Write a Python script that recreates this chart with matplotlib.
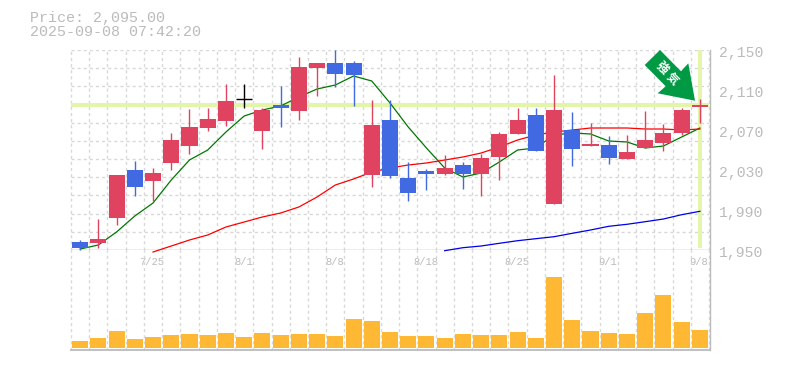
import matplotlib
matplotlib.use("Agg")
import matplotlib.pyplot as plt
from matplotlib.patches import Polygon, Rectangle

W, H = 785, 370
opens = [1958,1957,1982,2030,2019,2037,2054,2072,2079,2101,2069,2095,2089,2132,2137,2137,2025,2080,2022,2029,2026,2035,2026,2043,2066,2085,1996,2070,2054,2055,2041,2052,2057,2067,2093]
closes = [1952,1961,2025,2013,2027,2060,2073,2081,2099,2101,2090,2092,2133,2137,2126,2125,2075,2024,2007,2026,2032,2026,2042,2066,2080,2049,2090,2051,2056,2042,2048,2060,2067,2090,2095]
highs = [1960,1981,2025,2039,2032,2067,2091,2092,2116,2116,2092,2114,2143,2137,2150,2139,2100,2100,2038,2031,2045,2038,2046,2068,2092,2092,2125,2088,2077,2064,2065,2089,2076,2092,2101]
lows = [1950,1952,1975,2004,1999,2030,2046,2069,2074,2092,2051,2073,2080,2104,2113,2094,2013,2022,1999,2010,2025,2011,2004,2020,2066,2049,1996,2034,2054,2036,2041,2052,2049,2065,2077]
ma_short = [1951,1955,1968,1984,1997,2020,2040,2050,2068,2084,2090,2094,2103,2111,2115,2124,2119,2097,2073,2052,2032,2023,2027,2038,2050,2052,2065,2067,2066,2059,2058,2052,2054,2063,2072]
ma_mid = [None,None,None,None,1948,1954,1960,1965,1973,1978,1983,1987,1993,2003,2015,2021,2028,2032,2035,2037,2040,2043,2047,2053,2060,2065,2068,2070,2072,2072,2072,2071,2071,2070,2071]
ma_long = [None]*20 + [1949.3,1952.3,1954,1956.7,1959.3,1961.3,1963.3,1966.7,1970,1973.7,1975.7,1978.3,1981,1985.3,1988.7]
volumes = [7,10,17,9,11,13,14,13,15,11,15,13,14,14,12,29,27,16,12,12,10,14,13,13,16,10,71,28,17,15,14,35,53,26,18]
date_labels = {4:"7/25",9:"8/1",14:"8/8",19:"8/18",24:"8/25",29:"9/1",34:"9/8"}
price_ticks = [2150,2110,2070,2030,1990,1950]
current_price = 2095
header = ["Price: 2,095.00","2025-09-08 07:42:20"]
arrow_chars = ["強","気"]

UP, DOWN, DOJI = "#e0435f", "#4169e1", "#000000"
GRID, AXIS, TXT = "#d8d8d8", "#bbbbbb", "#bbbbbb"
MONO = "Liberation Mono"
n = len(opens)

fig = plt.figure(figsize=(W/100, H/100), dpi=100)
L, R = 71, 709
def rect(top, bottom):
    return [L/W, 1-bottom/H, (R-L)/W, (bottom-top)/H]
ax = fig.add_axes(rect(50, 250))
av = fig.add_axes(rect(250, 350))
DASH = (0,(2.2,2.2))
for a in (ax, av):
    a.set_xlim(0, n)
    for s in a.spines.values():
        s.set_visible(False)
    a.set_xticks([]); a.set_yticks([])
    a.patch.set_alpha(0)
    for i in range(n+1):
        a.axvline(i, color=GRID, lw=1.0, ls=DASH, zorder=0, clip_on=False)
ax.set_ylim(1950, 2150)
av.set_ylim(-2, 98)
for k in range(12):
    ax.axhline(1950+k*200/11, color=GRID, lw=1.0, ls=DASH, zorder=0)

# price markers
xlast = n-0.5
ax.axhline(current_price, color="#e3f5a8", lw=2.9, zorder=1)
ax.plot([xlast,xlast],[1952,2150], color="#e3f5a8", lw=2.8, zorder=1, solid_capstyle="butt")

# moving averages
xs = [i+0.5 for i in range(n)]
for vals, c in ((ma_short,"#007700"),(ma_mid,"#ff0000"),(ma_long,"#0000e6")):
    pts = [(x,v) for x,v in zip(xs,vals) if v is not None]
    ax.plot([p[0] for p in pts],[p[1] for p in pts],color=c,lw=0.9,zorder=2,clip_on=False)

# candles
bw = 0.88
for i,(o,c,h,l) in enumerate(zip(opens,closes,highs,lows)):
    col = DOJI if o==c else (UP if c>o else DOWN)
    ax.plot([i+.5,i+.5],[l,h],color=col,lw=1.0,zorder=3,solid_capstyle="butt",clip_on=False)
    if o==c:
        ax.plot([i+.5-bw/2,i+.5+bw/2],[o,o],color=col,lw=1.0,zorder=3,solid_capstyle="butt")
    else:
        ax.add_patch(Rectangle((i+.5-bw/2,min(o,c)),bw,abs(c-o),color=col,lw=0,zorder=3,clip_on=False))

# volume
av.bar(xs, volumes, width=bw, color="#ffb833", lw=0, zorder=2)

# frame
ax.axhline(1950, color=AXIS, lw=1.0, zorder=1.5)
av.axhline(-2, color=AXIS, lw=1.3, zorder=4, clip_on=False)
fig.add_artist(plt.Line2D([(R+1)/W]*2,[1-50/H,1-350/H],color=AXIS,lw=1.0))

# labels
for p in price_ticks:
    ax.text(n+0.55, p-3, f"{p:,}", family=MONO, fontsize=10.6, color=TXT, va="center", ha="left", clip_on=False)
for i,t in date_labels.items():
    ax.text(i+0.45, 1938, t, family=MONO, fontsize=7.6, color=TXT, va="center", ha="center")
fig.text(30/W, 1-18/H, header[0], family=MONO, fontsize=10.8, color=TXT, va="center")
fig.text(30/W, 1-32.5/H, header[1], family=MONO, fontsize=10.8, color=TXT, va="center")

# arrow annotation (pixel positions)
arrow_px = [(660,50),(681,71.3),(688.3,63.3),(695,100.7),(657.7,93.3),(665.7,86.3),(644.7,65)]
fig.add_artist(Polygon([(x/W,1-y/H) for x,y in arrow_px], closed=True, transform=fig.transFigure, color="#009944", lw=0))
for ch,(x,y) in zip(arrow_chars, [(661.7,68.3),(672.7,78.8)]):
    fig.text(x/W, 1-y/H, ch, family=["Noto Sans CJK JP","DejaVu Sans"], fontsize=8.5, fontweight="bold", color="white",
             rotation=-45, rotation_mode="anchor", ha="center", va="center")

fig.savefig("out.png", dpi=100)
